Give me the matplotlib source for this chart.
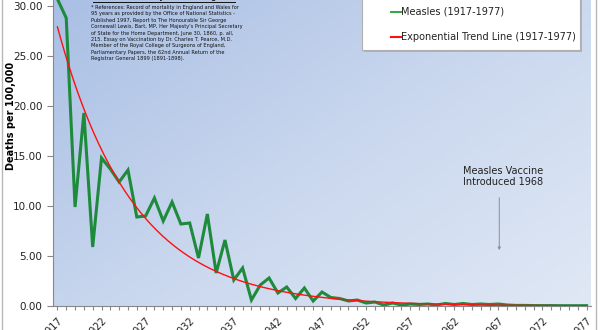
import numpy as np
import matplotlib
matplotlib.use("Agg")
import matplotlib.pyplot as plt
from matplotlib.lines import Line2D
from matplotlib.patches import Rectangle
from matplotlib.colors import LinearSegmentedColormap

YEARS = list(range(1917, 1978))
DEATHS = [30.7, 28.8, 9.9, 19.3, 5.9, 14.8, 13.7, 12.4, 13.6, 8.9,
          9.0, 10.8, 8.5, 10.4, 8.2, 8.3, 4.8, 9.2, 3.3, 6.6,
          2.6, 3.8, 0.6, 2.1, 2.8, 1.3, 1.9, 0.75, 1.8, 0.5,
          1.4, 0.85, 0.75, 0.5, 0.6, 0.3, 0.4, 0.1, 0.3, 0.1,
          0.2, 0.15, 0.2, 0.1, 0.25, 0.15, 0.25, 0.15, 0.2, 0.15,
          0.2, 0.1, 0.06, 0.06, 0.04, 0.04, 0.04, 0.03, 0.03, 0.03,
          0.035]
SERIES_LABEL = "Measles (1917-1977)"
TREND_LABEL = "Exponential Trend Line (1917-1977)"
YLABEL = "Deaths per 100,000"
VACCINE_NOTE = "Measles Vaccine\nIntroduced 1968"
REFS = ("* References: Record of mortality in England and Wales for\n"
        "95 years as provided by the Office of National Statistics -\n"
        "Published 1997, Report to The Honourable Sir George\n"
        "Cornewall Lewis, Bart, MP, Her Majesty's Principal Secretary\n"
        "of State for the Home Department, June 30, 1860, p. all,\n"
        "215. Essay on Vaccination by Dr. Charles T. Pearce, M.D.\n"
        "Member of the Royal College of Surgeons of England,\n"
        "Parliamentary Papers, the 62nd Annual Return of the\n"
        "Registrar General 1899 (1891-1898).")

W, H = 600, 330


def px(x, y):
    return x / W, 1 - y / H


years = np.array(YEARS, dtype=float)
deaths = np.array(DEATHS)
# exponential trend like Excel: least squares on log of values
b, loga = np.polyfit(years - years[0], np.log(deaths), 1)
tx = np.linspace(years[0], years[-1], 300)
trend = np.exp(loga) * np.exp(b * (tx - years[0]))

fig = plt.figure(figsize=(6, 3.3), dpi=100)
ax = fig.add_axes([53 / W, 24 / H, 538 / W, 306 / H])

# plot area gradient (dark blue top-left -> pale bottom-right)
cmap = LinearSegmentedColormap.from_list("bg", ["#a9bfe4", "#c9d7ee", "#e0e8f5"])
gx, gy = np.meshgrid(np.linspace(0, 1, 200), np.linspace(0, 1, 200))
ax.imshow(0.55 * gx + 0.45 * gy, cmap=cmap, extent=[0, 1, 0, 1],
          transform=ax.transAxes, aspect="auto", zorder=0, origin="upper")

ax.plot(years, deaths, color="#1e8a3c", lw=2.2, zorder=3, solid_joinstyle="miter")
ax.plot(tx, trend, color="#ff1010", lw=1.0, zorder=4)

ax.set_xlim(1916.5, 1977.5)
ax.set_ylim(0, 30.6)
ax.set_yticks(np.arange(0, 31, 5))
ax.set_yticklabels(["%.2f" % v for v in np.arange(0, 31, 5)], fontsize=7.5, color="#222")
ax.set_xticks(YEARS[::5])
ax.set_xticklabels([str(y) for y in YEARS[::5]], rotation=45, ha="right",
                   rotation_mode="anchor", fontsize=7, color="#222")
ax.set_xticks(YEARS, minor=True)
ax.tick_params(axis="both", which="both", direction="out", length=3, color="#888", width=0.8)
ax.tick_params(axis="y", length=4)
for s in ("top", "right"):
    ax.spines[s].set_visible(False)
for s in ("left", "bottom"):
    ax.spines[s].set_color("#888")
    ax.spines[s].set_linewidth(0.8)
ax.set_ylabel(YLABEL, fontsize=7, fontweight="bold", labelpad=6)
ax.yaxis.set_label_coords(-0.068, 0.62)

# vaccine note
ax.text(1963.0, 14.0, VACCINE_NOTE, fontsize=7, color="#222", va="top", ha="left",
        linespacing=1.15, zorder=5)
ax.annotate("", xy=(1967.1, 5.3), xytext=(1967.1, 11.1),
            arrowprops=dict(arrowstyle="-|>", color="#8a8f99", lw=0.7,
                            mutation_scale=4), zorder=5)

# references block (title row cut off by the crop)
fig.text(*px(93, 1), "Measles Mortality Rates in England and Wales", fontsize=5,
         fontweight="bold", va="bottom", ha="left", color="#111")
fig.add_artist(Line2D([93 / W, 235 / W], [1 - 2 / H] * 2, color="#111", lw=0.7))
fig.text(*px(91, 5), REFS, fontsize=3.65, va="top", ha="left", color="#111",
         linespacing=1.35)

# legend box
lx0, lx1, ly1 = 362, 580, 50
fig.add_artist(Rectangle(px(lx0 + 2, ly1 + 2), (lx1 - lx0) / W, 80 / H,
                         transform=fig.transFigure, facecolor="#9a9a9a",
                         edgecolor="none", alpha=0.6, zorder=6))
fig.add_artist(Rectangle(px(lx0, ly1), (lx1 - lx0) / W, 80 / H,
                         transform=fig.transFigure, facecolor="white",
                         edgecolor="#b0b0b0", lw=0.8, zorder=7))
for yy, col, lab in [(12, "#3aa64c", SERIES_LABEL), (37, "#ff1010", TREND_LABEL)]:
    fig.add_artist(Line2D([391 / W, 401 / W], [1 - yy / H] * 2, color=col, lw=1.5, zorder=8))
    fig.text(*px(401, yy), lab, fontsize=7, va="center", ha="left", color="#222", zorder=8)

# outer chart frame edges
for xx in (2, 596):
    fig.add_artist(Line2D([xx / W] * 2, [0, 1], color="#b8b8b8", lw=1.0))

fig.savefig("out.png", dpi=100)
